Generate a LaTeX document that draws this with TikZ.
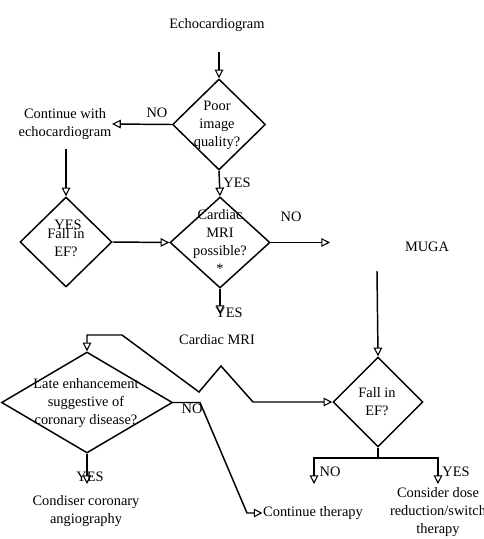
\documentclass[tikz,border=0pt]{standalone}
\usepackage{fontspec}
\setmainfont{Liberation Serif}
\usetikzlibrary{shapes.geometric,arrows.meta}
\begin{document}
\begin{tikzpicture}[x=0.75pt,y=-0.75pt,
  font=\fontsize{10.8}{13.5}\selectfont,
  line width=1.1pt,
  >={Triangle[open,length=6.5pt,width=6.5pt,line width=0.8pt]},
  dia/.style={draw, diamond, inner sep=0pt},
  txt/.style={inner sep=0pt, align=center},
  lbl/.style={inner sep=0pt}]
\useasboundingbox (0,0) rectangle (484,539);

% texts
\node[txt] (echo) at (217,25) {Echocardiogram};
\node[txt] (cont) at (65,124) {Continue with\\echocardiogram};
\node[txt] (mri) at (217,340) {Cardiac MRI};
\node[txt] (muga) at (427,247) {MUGA};
\node[txt] (cc) at (86,511) {Condiser coronary\\angiography};
\node[txt] (ct) at (313,513) {Continue therapy};
\node[txt] (cd) at (438,512) {Consider dose\\reduction/switch\\therapy};

% diamonds
\node[dia, minimum width=69.75pt, minimum height=68.25pt] (d1) at (219,124.5) {};
\node[txt] (d1t) at (217,125) {Poor\\image\\quality?};
\node[dia, minimum width=69pt, minimum height=67.5pt] (d2) at (66,242) {};
\node[txt] (d2t) at (66,243) {Fall in\\EF?};
\node[dia, minimum width=75pt, minimum height=68.25pt] (d3) at (220,242.5) {};
\node[txt] (d3t) at (220,242) {Cardiac\\MRI\\possible?\\*};
\node[dia, minimum width=67.5pt, minimum height=67.5pt] (d4) at (378,402) {};
\node[txt] (d4t) at (377,402) {Fall in\\EF?};
\node[dia, minimum width=128.25pt, minimum height=75.75pt] (d5) at (87,402.5) {};
\node[txt] (d5t) at (86,403) {Late enhancement\\suggestive of\\coronary disease?};

% free coordinates
\coordinate (echoS) at (219,52);
\coordinate (contS) at (66,149);
\coordinate (mugaS) at (377,271);
\coordinate (d3no) at (330,242.5);
\coordinate (d3yes) at (220,314);
\coordinate (d5yes) at (87,484);
\coordinate (d4no) at (314,484);
\coordinate (d4yes) at (438,484);

% labels
\node[lbl] (l1) at (157,113) {NO};
\node[lbl] (l2) at (237,183) {YES};
\node[lbl] (l3) at (68,225) {YES};
\node[lbl] (l4) at (291,217) {NO};
\node[lbl] (l5) at (229,313) {YES};
\node[lbl] (l6) at (192,409) {NO};
\node[lbl] (l7) at (90,477) {YES};
\node[lbl] (l8) at (330,472) {NO};
\node[lbl] (l9) at (456,472) {YES};

% connectors
\draw[->] (echoS) -- (d1.north);
\draw[->] (d1.west) -- (cont.east);
\draw[->] (contS) -- (d2.north);
\draw[->] (d1.south) -- (d3.north);
\draw[->] (d2.east) -- (d3.west);
\draw[->] (d3.east) -- (d3no);
\draw[->] (d3.south) -- (d3yes);
\draw[->] (mugaS) -- (d4.north);
\draw[<->] (d5.north) |- (122,335) -- (199,392) -- (221,366) -- (253,402) -- (d4.west);
\draw[->] (d5.east) -- (200,402.5) -- (247,513) -- (ct.west);
\draw[->] (d5.south) -- (d5yes);
\draw[->] (d4.south) |- (314,458) -- (d4no);
\draw[->] (d4.south) |- (438,458) -- (d4yes);
\end{tikzpicture}
\end{document}
